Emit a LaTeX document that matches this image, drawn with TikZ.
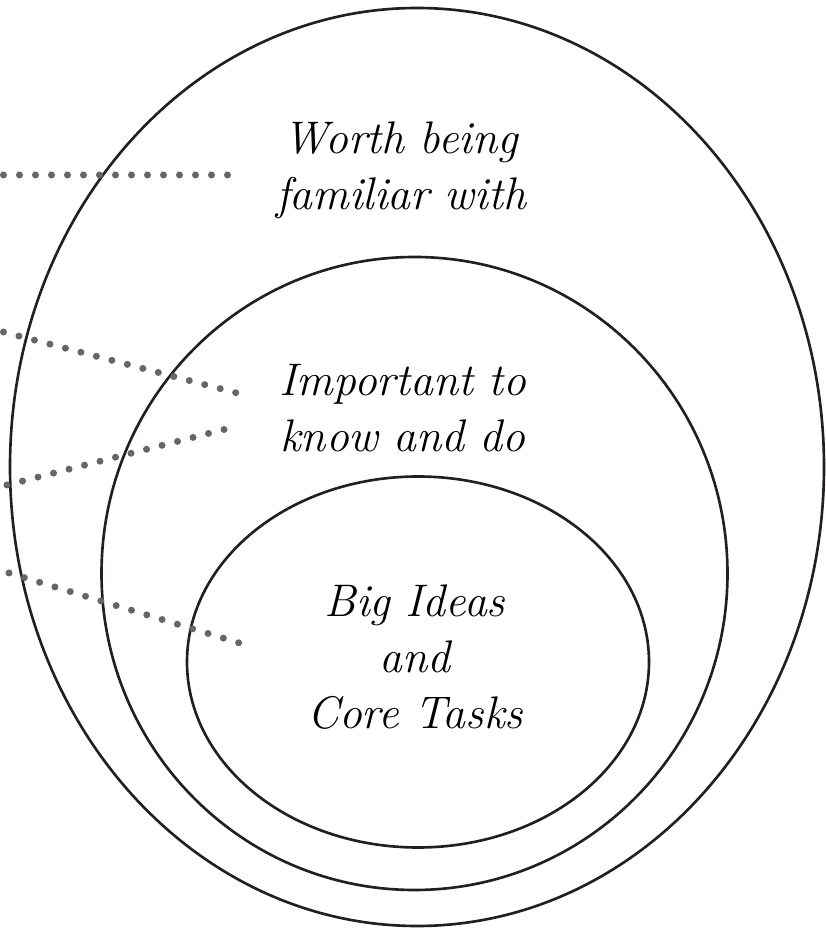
\documentclass[tikz,border=0pt]{standalone}
\usepackage{tikz}
\usetikzlibrary{calc}
\usetikzlibrary{positioning}
\definecolor{ringcol}{HTML}{231F20}
\definecolor{dotcol}{HTML}{666666}
\tikzset{ring/.style={draw=ringcol, line width=1.5pt},
  leader/.style={draw=dotcol, line width=0.14cm, line cap=round, dash pattern=on 0pt off 0.32cm},
  idea/.style={text width=5.6cm, align=center, inner sep=0pt, font=\fontsize{26}{32}\selectfont\itshape}}

\begin{document}
\begin{tikzpicture}
  \useasboundingbox (0,0) rectangle (16.5,18.56);
  % the three rings
  \draw[ring] (8.34,9.22) ellipse (8.14 and 9.18);
  \draw[ring] (8.29,7.09) ellipse (6.26 and 6.33);
  \draw[ring] (8.36,5.32) ellipse (4.62 and 3.71);
  % labels
  \node[idea] (worth) at (8.02,15.16) {Worth being\\familiar with};
  \node[idea] (imp) at (8.06,10.39) {Important to\\know and do};
  \node[idea] (big) at (8.30,5.42) {Big Ideas\\and\\Core Tasks};
  % free ends of the dotted lines
  \coordinate (l1) at (0.07,15.06);
  \coordinate (l2) at (0.07,11.92);
  \coordinate (l3) at (0.14,8.86);
  \coordinate (l4) at (0.18,7.10);
  \draw[leader] (l1) -- ($(worth.west)+(-0.38,-0.10)$);
  \draw[leader] (l2) -- ($(imp.west)+(-0.44,0.29)$);
  \draw[leader] (l3) -- ($(imp.west)+(-0.50,-0.35)$);
  \draw[leader] (l4) -- ($(big.west)+(-0.64,0.26)$);
\end{tikzpicture}
\end{document}
